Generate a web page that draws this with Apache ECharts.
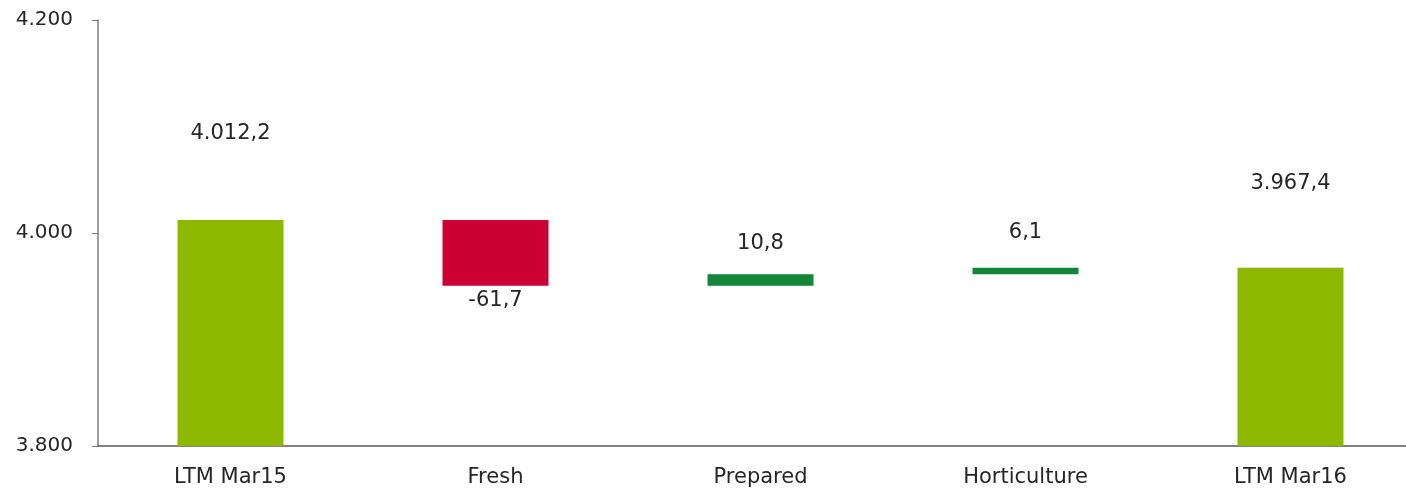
<!DOCTYPE html>
<html>
<head>
    <meta charset="UTF-8" />
    <title>Waterfall</title>
    <style>
        html, body { margin: 0; padding: 0; background: #fff; overflow: hidden; }
        #chart { width: 1423px; height: 497px; }
    </style>
</head>
<body>
    <div id="chart"></div>
    <script src="https://cdn.jsdelivr.net/npm/echarts@6/dist/echarts.min.js"></script>
    <script>
        // data
        var categories = ['LTM Mar15', 'Fresh', 'Prepared', 'Horticulture', 'LTM Mar16'];
        var values = [4012.2, -61.7, 10.8, 6.1, 3967.4];
        var isTotal = [true, false, false, false, true];
        var yTicks = [3800, 4000, 4200];

        var colTotal = '#8cb800', colUp = '#138538', colDown = '#cc0033';
        // label offsets above/below each bar
        var labelGap = [76, 4, 20, 25, 74];

        function fmt(v, dec) {
            var s = Math.abs(v).toFixed(dec).split('.');
            var intPart = s[0].replace(/\B(?=(\d{3})+(?!\d))/g, '.');
            return (v < 0 ? '-' : '') + intPart + (dec ? ',' + s[1] : '');
        }

        // build transparent base + visible part
        var base = [], vis = [];
        var run = 0;
        for (var i = 0; i < values.length; i++) {
            var v = values[i];
            var b, h, color;
            if (isTotal[i]) {
                b = 0; h = v; run = v; color = colTotal;
            } else if (v >= 0) {
                b = run; h = v; run += v; color = colUp;
            } else {
                run += v; b = run; h = -v; color = colDown;
            }
            base.push(b);
            vis.push({
                value: h,
                raw: v,
                itemStyle: { color: color },
                label: {
                    position: v < 0 ? 'bottom' : 'top',
                    distance: labelGap[i]
                }
            });
        }

        var font = 'DejaVu Sans';
        var chart = echarts.init(document.getElementById('chart'));
        chart.setOption({
            animation: false,
            grid: { left: 98, right: 0, top: 20, bottom: 51 },
            xAxis: {
                type: 'category',
                data: categories,
                axisLine: { lineStyle: { color: '#5a5a5a', width: 1.5 } },
                axisTick: { show: false },
                axisLabel: { color: '#262626', fontSize: 21, fontFamily: font, margin: 21 }
            },
            yAxis: {
                type: 'value',
                min: yTicks[0],
                max: yTicks[yTicks.length - 1],
                interval: yTicks[1] - yTicks[0],
                splitLine: { show: false },
                axisLine: { show: true, lineStyle: { color: '#7f7f7f', width: 1.5 } },
                axisTick: { show: true, length: 6, lineStyle: { color: '#7f7f7f' } },
                axisLabel: {
                    color: '#262626', fontSize: 20, fontFamily: font, margin: 25,
                    formatter: function (v) { return fmt(v, 0); }
                }
            },
            series: [{
                type: 'bar',
                stack: 'wf',
                data: base,
                barWidth: '40%',
                itemStyle: { color: 'transparent' },
                silent: true
            }, {
                type: 'bar',
                stack: 'wf',
                data: vis,
                barWidth: '40%',
                label: {
                    show: true,
                    color: '#262626',
                    fontSize: 21,
                    fontFamily: font,
                    formatter: function (p) { return fmt(p.data.raw, 1); }
                }
            }]
        });
    </script>
</body>
</html>
